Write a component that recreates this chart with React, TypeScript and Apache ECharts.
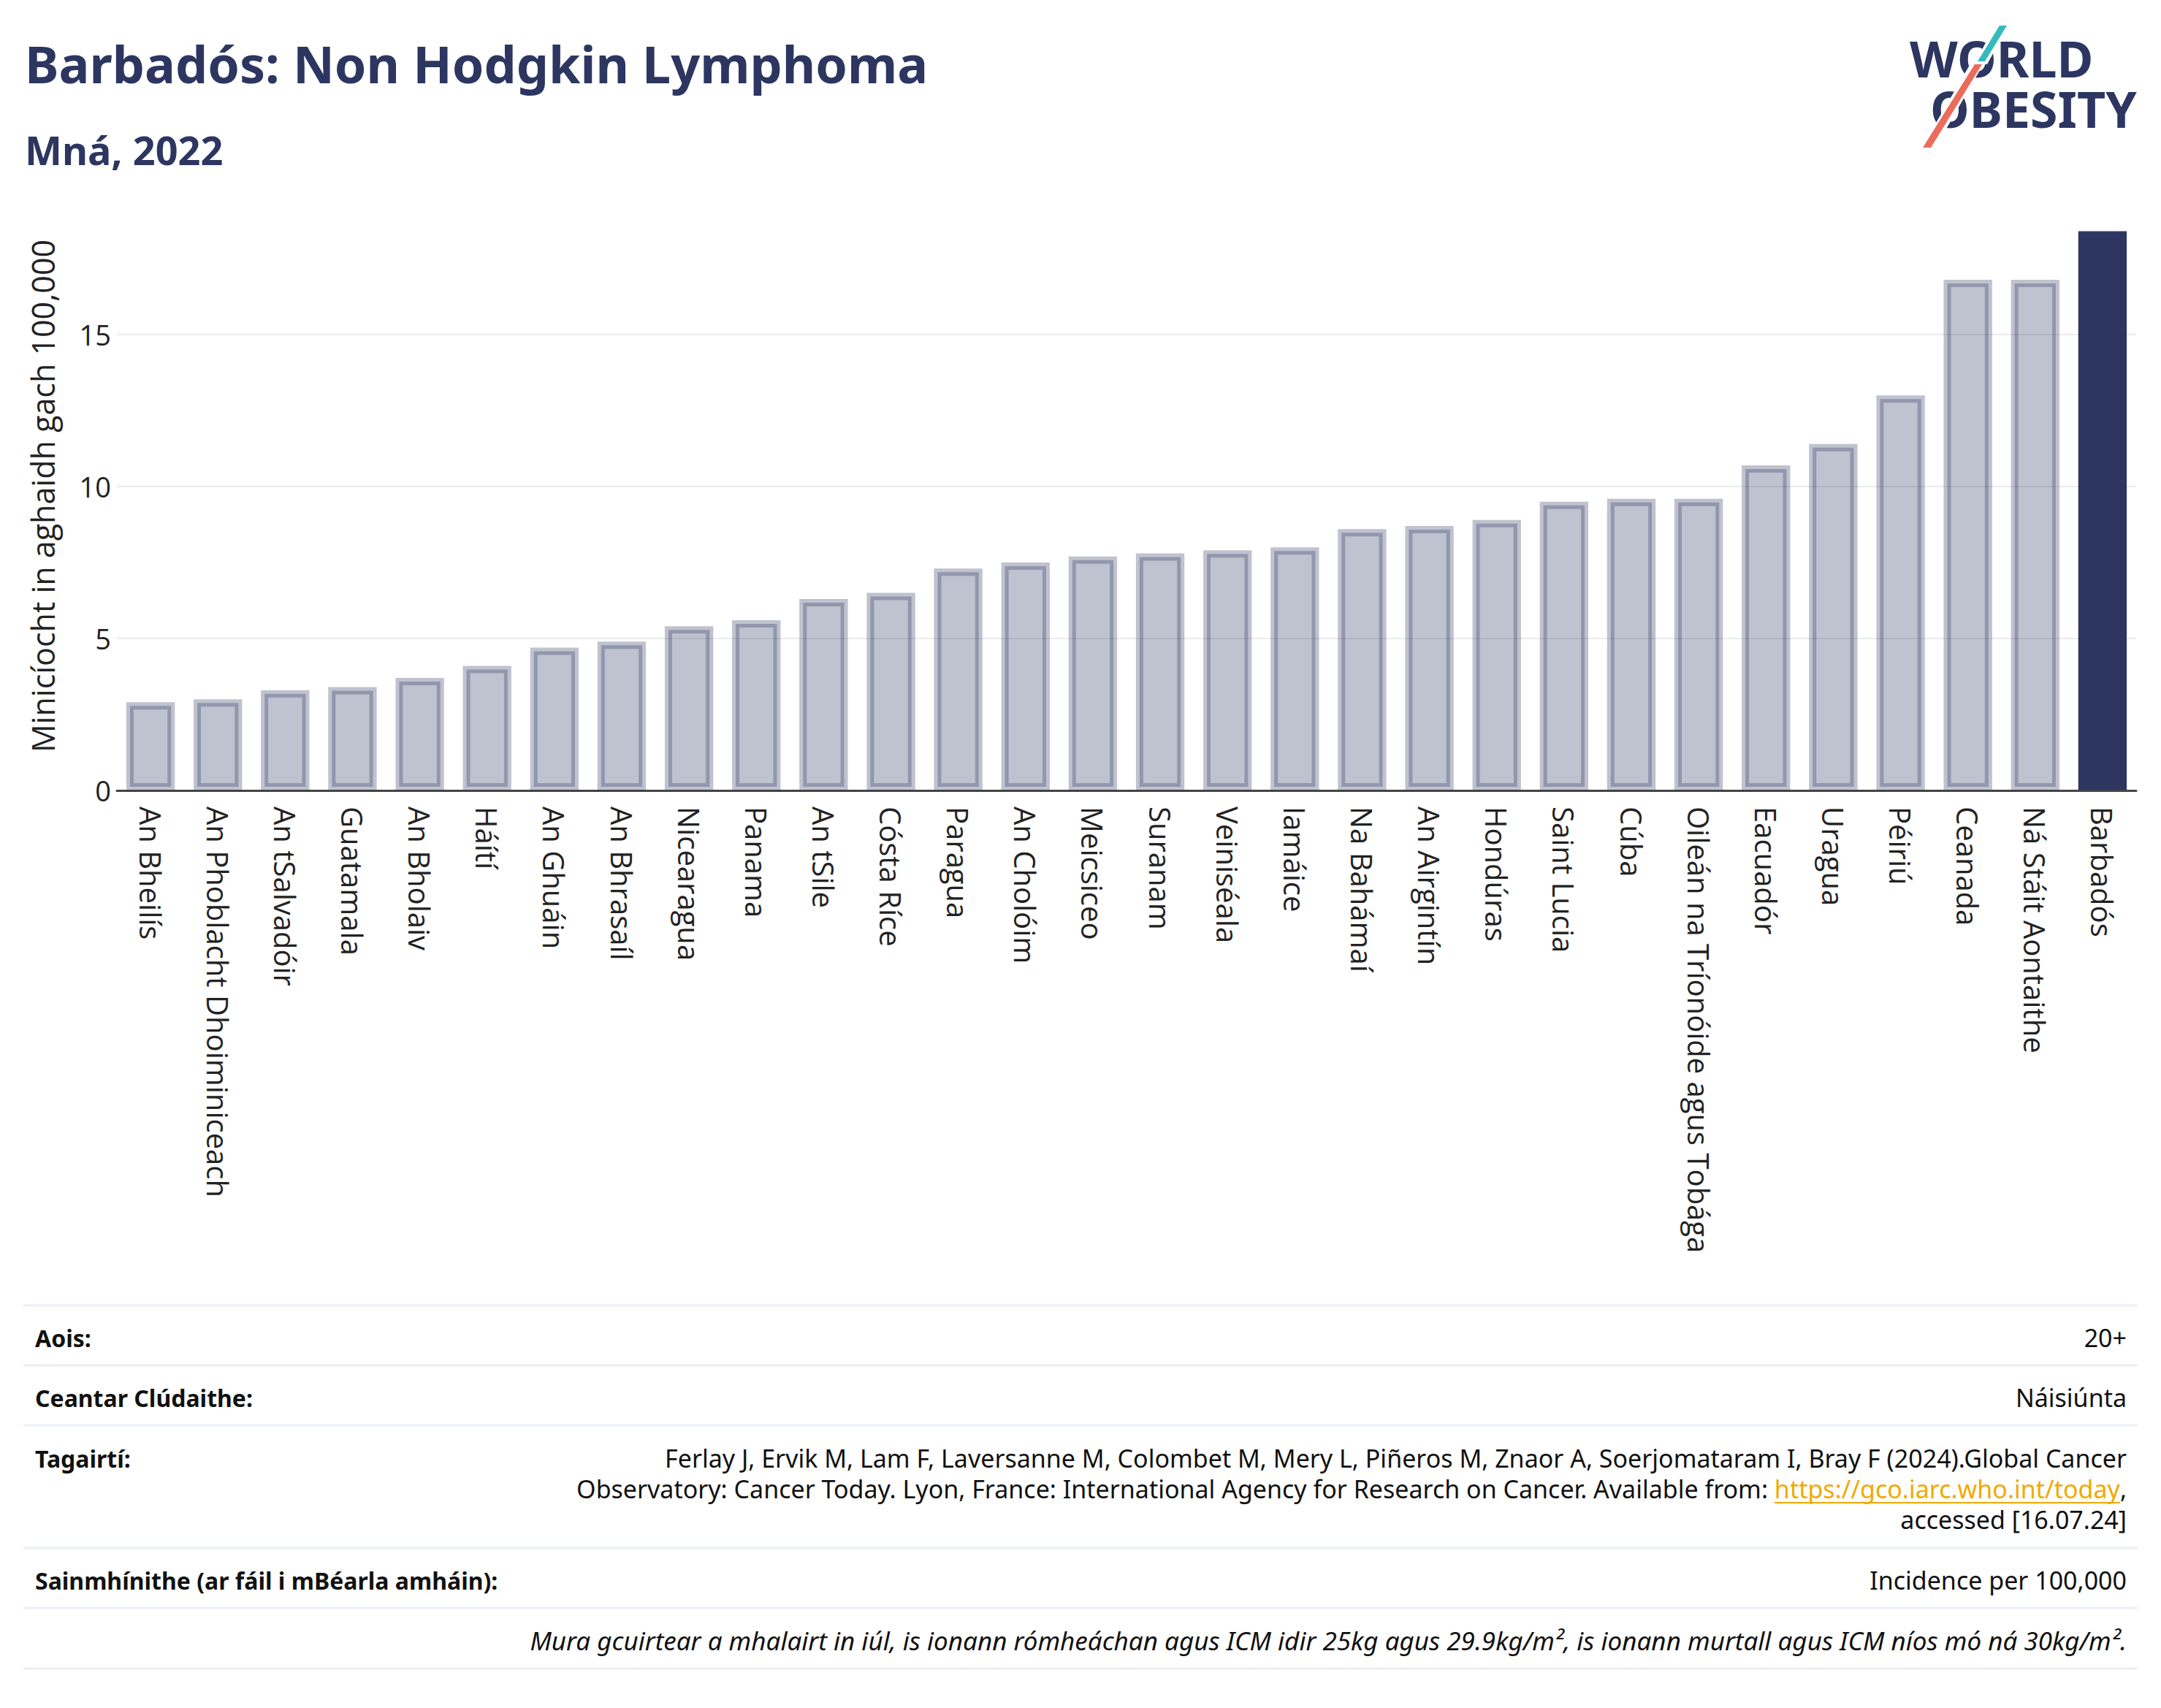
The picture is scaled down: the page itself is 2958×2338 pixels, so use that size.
import React, { useEffect, useRef } from "react";
import * as echarts from "echarts";

const countries = [
  "An Bheilís", "An Phoblacht Dhoiminiceach", "An tSalvadóir", "Guatamala", "An Bholaiv",
  "Háítí", "An Ghuáin", "An Bhrasaíl", "Nicearagua", "Panama", "An tSile", "Cósta Ríce",
  "Paragua", "An Cholóim", "Meicsiceo", "Suranam", "Veiniséala", "Iamáice", "Na Bahámaí",
  "An Airgintín", "Hondúras", "Saint Lucia", "Cúba", "Oileán na Tríonóide agus Tobága",
  "Eacuadór", "Uragua", "Péiriú", "Ceanada", "Ná Stáit Aontaithe", "Barbadós",
];
const incidence = [
  2.9, 3.0, 3.3, 3.4, 3.7, 4.1, 4.7, 4.9, 5.4, 5.6, 6.3, 6.5, 7.3, 7.5, 7.7, 7.8, 7.9, 8.0,
  8.6, 8.7, 8.9, 9.5, 9.6, 9.6, 10.7, 11.4, 13.0, 16.8, 16.8, 18.4,
];
const highlight = "Barbadós";
const yTicks = [0, 5, 10, 15];

const titleText = "Barbadós: Non Hodgkin Lymphoma";
const subtitleText = "Mná, 2022";
const yAxisTitle = "Minicíocht in aghaidh gach 100,000";
const logoLine1 = "WORLD";
const logoLine2 = "OBESITY";

const footerLabels = ["Aois:", "Ceantar Clúdaithe:", "Tagairtí:", "Sainmhínithe (ar fáil i mBéarla amháin):"];
const footerValues = ["20+", "Náisiúnta", "", "Incidence per 100,000"];
const refLine1 = "Ferlay J, Ervik M, Lam F, Laversanne M, Colombet M, Mery L, Piñeros M, Znaor A, Soerjomataram I, Bray F (2024).Global Cancer";
const refLine2a = "Observatory: Cancer Today. Lyon, France: International Agency for Research on Cancer. Available from: ";
const refLink = "https://gco.iarc.who.int/today";
const refLine2c = ",";
const refLine3 = "accessed [16.07.24]";
const noteText = "Mura gcuirtear a mhalairt in iúl, is ionann rómheáchan agus ICM idir 25kg agus 29.9kg/m², is ionann murtall agus ICM níos mó ná 30kg/m².";

const NAVY = "#2c3660";
const W = 2958;
const H = 2338;

function measure(text: string, font: string): number {
  const c = document.createElement("canvas").getContext("2d");
  if (!c) return text.length * 15;
  c.font = font;
  return c.measureText(text).width;
}

export default function App() {
  const ref = useRef<HTMLDivElement>(null);
  useEffect(() => {
    document.body.style.margin = "0";
    if (!ref.current) return;
    const chart = echarts.init(ref.current, undefined, { renderer: "svg" });

    const footFont = "34px 'Noto Sans'";
    const footBold = "bold 32px 'Noto Sans'";
    const rightX = 2911;
    const lineYs = [1787, 1869, 1951, 2119, 2201, 2284];
    const labelYs = [1831, 1913, 1996, 2163];
    const wComma = measure(refLine2c, footFont);
    const wLink = measure(refLink, footFont);
    const logoFont = "bold 68px 'Noto Sans'";

    const graphics: any[] = [];
    graphics.push({
      type: "text", left: 34, top: 52,
      style: { text: titleText, font: "bold 70px 'Noto Sans'", fill: NAVY },
    });
    graphics.push({
      type: "text", left: 34, top: 178,
      style: { text: subtitleText, font: "bold 54px 'Noto Sans'", fill: NAVY },
    });
    // y-axis title
    graphics.push({
      type: "text", x: 58, y: 679, rotation: Math.PI / 2,
      style: {
        text: yAxisTitle, font: "43px 'Open Sans'", fill: "#222222",
        align: "center", verticalAlign: "middle",
      },
    });
    // logo
    graphics.push({
      type: "text", x: 2614, y: 45,
      style: { text: logoLine1, font: logoFont, fill: NAVY, align: "left", verticalAlign: "top" },
    });
    graphics.push({
      type: "text", x: 2642, y: 114,
      style: { text: logoLine2, font: logoFont, fill: NAVY, align: "left", verticalAlign: "top" },
    });
    graphics.push({
      type: "polygon",
      shape: { points: [[2733, 31], [2751, 31], [2720, 88], [2702, 88]] },
      style: { fill: "#ffffff" },
    });
    graphics.push({
      type: "polygon",
      shape: { points: [[2699, 84], [2717, 84], [2647, 206], [2628, 206]] },
      style: { fill: "#ffffff" },
    });
    graphics.push({
      type: "polygon",
      shape: { points: [[2737, 35], [2747, 35], [2717, 84], [2707, 84]] },
      style: { fill: "#36b9bd" },
    });
    graphics.push({
      type: "polygon",
      shape: { points: [[2703, 88], [2713, 88], [2643, 202], [2632, 202]] },
      style: { fill: "#ec6b5b" },
    });
    // footer lines
    lineYs.forEach((y) => {
      graphics.push({
        type: "line",
        shape: { x1: 32, y1: y, x2: 2926, y2: y },
        style: { stroke: "#eceff8", lineWidth: 3 },
      });
    });
    footerLabels.forEach((t, i) => {
      graphics.push({
        type: "text", x: 48, y: labelYs[i],
        style: { text: t, font: footBold, fill: "#111", align: "left", verticalAlign: "middle" },
      });
      if (footerValues[i]) {
        graphics.push({
          type: "text", x: rightX, y: labelYs[i],
          style: { text: footerValues[i], font: footFont, fill: "#111", align: "right", verticalAlign: "middle" },
        });
      }
    });
    const r1 = 1996, r2 = 2038, r3 = 2080;
    graphics.push({
      type: "text", x: rightX, y: r1,
      style: { text: refLine1, font: footFont, fill: "#111", align: "right", verticalAlign: "middle" },
    });
    graphics.push({
      type: "text", x: rightX, y: r2,
      style: { text: refLine2c, font: footFont, fill: "#111", align: "right", verticalAlign: "middle" },
    });
    graphics.push({
      type: "text", x: rightX - wComma, y: r2,
      style: { text: refLink, font: footFont, fill: "#f2a900", align: "right", verticalAlign: "middle" },
    });
    graphics.push({
      type: "line",
      shape: { x1: rightX - wComma - wLink, y1: r2 + 19, x2: rightX - wComma, y2: r2 + 19 },
      style: { stroke: "#f2a900", lineWidth: 2 },
    });
    graphics.push({
      type: "text", x: rightX - wComma - wLink, y: r2,
      style: { text: refLine2a, font: footFont, fill: "#111", align: "right", verticalAlign: "middle" },
    });
    graphics.push({
      type: "text", x: rightX, y: r3,
      style: { text: refLine3, font: footFont, fill: "#111", align: "right", verticalAlign: "middle" },
    });
    graphics.push({
      type: "text", x: rightX, y: 2245,
      style: { text: noteText, font: "italic 35px 'Noto Sans'", fill: "#111", align: "right", verticalAlign: "middle" },
    });

    const barData = incidence.map((v, i) =>
      countries[i] === highlight
        ? { value: v, itemStyle: { color: NAVY, borderColor: NAVY } }
        : { value: v }
    );

    chart.setOption({
      animation: false,
      backgroundColor: "#ffffff",
      textStyle: { fontFamily: "'Open Sans'" },
      grid: { left: 160, right: 34, top: 250, bottom: 1256, containLabel: false },
      xAxis: {
        type: "category",
        data: countries,
        z: 10,
        axisLine: { show: true, lineStyle: { color: "#444444", width: 3 } },
        axisTick: { show: false },
        axisLabel: {
          interval: 0, rotate: -90, margin: 22,
          fontSize: 40, color: "#222222", fontFamily: "'Open Sans'",
        },
      },
      yAxis: {
        type: "value",
        min: 0, max: 20, interval: 5,
        axisLine: { show: false },
        axisTick: { show: false },
        axisLabel: {
          fontSize: 38, color: "#222222", margin: 8, fontFamily: "'Open Sans'",
          formatter: (v: number) => (yTicks.indexOf(v) >= 0 ? String(v) : ""),
        },
        splitLine: {
          show: true,
          lineStyle: { color: ["#ebebeb", "#ebebeb", "#ebebeb", "#ebebeb", "rgba(0,0,0,0)"], width: 2 },
        },
      },
      series: [
        {
          type: "bar",
          data: barData,
          barWidth: "72%",
          itemStyle: {
            color: "rgba(44,54,96,0.3)",
            borderColor: "rgba(44,54,96,0.3)",
            borderWidth: 10,
          },
        },
      ],
      graphic: graphics,
    });
    return () => chart.dispose();
  }, []);
  return <div ref={ref} style={{ width: W, height: H }} />;
}
